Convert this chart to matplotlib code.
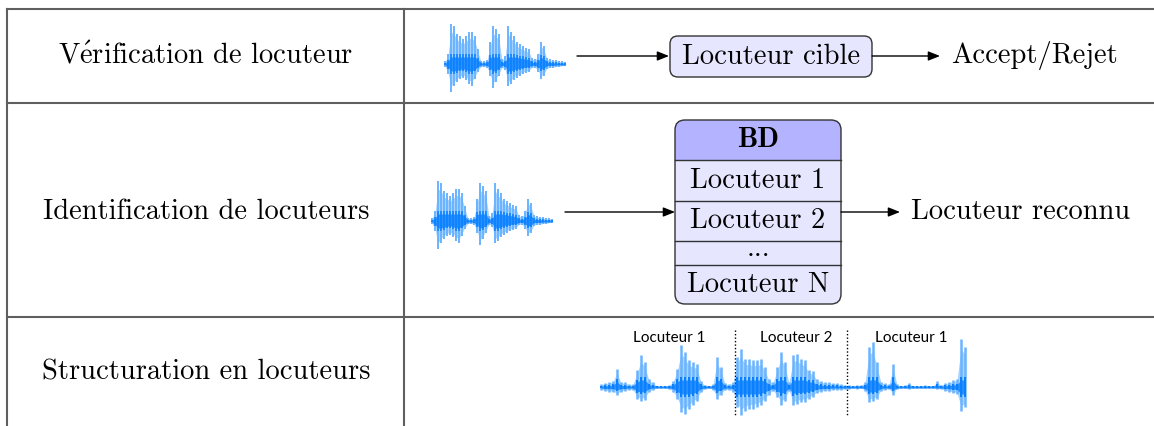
import numpy as np
import matplotlib.pyplot as plt
from matplotlib.patches import FancyBboxPatch, Rectangle

plt.rcParams['mathtext.fontset'] = 'cm'

# textes du tableau
row_labels = [r'V$\acute{\mathrm{e}}$rification de locuteur',
              'Identification de locuteurs',
              'Structuration en locuteurs']
verif_box = 'Locuteur cible'
verif_out = 'Accept/Rejet'
db_title = 'BD'
db_items = ['Locuteur 1', 'Locuteur 2', '...', 'Locuteur N']
ident_out = 'Locuteur reconnu'
segment_labels = ['Locuteur 1', 'Locuteur 2', 'Locuteur 1']

# enveloppe du signal court (lignes 1 et 2), amplitude haut / bas en px
wave_up = [3, 10, 40, 38, 30, 28, 25, 28, 32, 32, 28, 15, 3, 3, 4, 22, 38, 35, 30, 5,
           8, 38, 32, 28, 22, 20, 18, 16, 15, 6, 5, 10, 22, 18, 6, 5, 4, 4, 3, 3, 2]
wave_down = [3, 10, 28, 22, 18, 15, 14, 16, 20, 22, 15, 8, 3, 3, 4, 12, 24, 18, 12, 4,
             6, 22, 20, 16, 14, 12, 10, 9, 8, 4, 4, 8, 15, 12, 5, 4, 4, 3, 3, 2, 2]

# enveloppe du signal long (ligne 3)
long_up = [3, 4, 5, 6, 18, 5, 5, 3, 3, 17, 32, 25, 8, 5, 1, 1, 1, 2, 6, 18,
           42, 35, 27, 25, 23, 6, 2, 1, 3, 30, 20, 4, 3, 5, 30, 38, 28, 28, 27, 27,
           28, 20, 8, 5, 20, 35, 25, 5, 32, 33, 28, 27, 17, 16, 8, 6, 5, 5, 4, 4,
           3, 2, 2, 1, 2, 2, 5, 40, 45, 25, 5, 4, 3, 23, 3, 1, 2, 4, 1, 1,
           1, 2, 1, 1, 6, 2, 4, 5, 7, 8, 48, 40]
long_down = [3, 4, 5, 5, 8, 5, 4, 3, 3, 12, 14, 13, 5, 3, 1, 1, 1, 2, 5, 12,
             25, 27, 22, 18, 14, 5, 2, 1, 3, 12, 8, 3, 3, 5, 20, 28, 24, 22, 22, 20,
             18, 14, 8, 4, 10, 18, 14, 4, 18, 17, 15, 15, 12, 10, 6, 5, 4, 4, 3, 3,
             3, 2, 2, 1, 2, 1, 4, 15, 14, 12, 4, 3, 2, 8, 2, 1, 1, 2, 1, 1,
             1, 1, 1, 1, 2, 2, 4, 5, 6, 7, 24, 20]

serif = ['cmr10', 'DejaVu Serif']
fs = 20.5
light_blue = '#6ab4ff'
dark_blue = '#0a80ff'

fig = plt.figure(figsize=(11.54, 4.26), dpi=100)
ax = fig.add_axes([0, 0, 1, 1])
ax.set_xlim(0, 1154)
ax.set_ylim(426, 0)
ax.axis('off')


def draw_wave(x0, yc, step, up, down, lw=1.4):
    up = np.asarray(up, dtype=float)
    down = np.asarray(down, dtype=float)
    xs = x0 + step * np.arange(len(up))
    ax.plot([xs[0], xs[-1]], [yc, yc], color='#1d6fd6', lw=0.8, zorder=2)
    ax.fill_between(xs, yc - up * 0.8, yc + down * 0.8, color='#a8d2ff', lw=0, zorder=2)
    ax.vlines(xs, yc - up, yc + down, color=light_blue, lw=lw, zorder=3)
    core_up = np.clip(up * 0.3, 1, 7)
    core_down = np.clip(down * 0.35, 1, 7)
    ax.fill_between(xs, yc - core_up, yc + core_down, color=dark_blue, lw=0, alpha=0.8, zorder=4)
    ax.vlines(xs, yc - core_up * 1.4, yc + core_down * 1.4, color=dark_blue, lw=lw * 0.8, zorder=4)


def arrow(x1, x2, y):
    ax.annotate('', xy=(x2, y), xytext=(x1, y),
                arrowprops=dict(arrowstyle='-|>,head_length=0.5,head_width=0.2', lw=1.0,
                                color='black', mutation_scale=14, shrinkA=0, shrinkB=0))


# grille du tableau
grid_c = '#5f5f5f'
for yh in [9, 103, 317]:
    ax.plot([7, 1154], [yh, yh], color=grid_c, lw=1.5)
for xv in [7, 404]:
    ax.plot([xv, xv], [9, 426], color=grid_c, lw=1.5)

row_y = [56, 212, 372]
for lab, yy in zip(row_labels, row_y):
    ax.text(206, yy, lab, family=serif, fontsize=fs, ha='center', va='center')

# ligne 1 : verification
draw_wave(445, 64, 3, wave_up, wave_down)
arrow(577, 669, 56)
box = FancyBboxPatch((670, 36), 202, 41, boxstyle='round,pad=0,rounding_size=8',
                     facecolor='#e6e6ff', edgecolor='#333333', lw=1.0)
ax.add_patch(box)
ax.text(771, 57, verif_box, family=serif, fontsize=fs, ha='center', va='center')
arrow(872, 940, 56)
ax.text(1034, 56, verif_out, family=serif, fontsize=fs, ha='center', va='center')

# ligne 2 : identification
draw_wave(432, 221, 3, wave_up, wave_down)
arrow(565, 675, 212)
db_x, db_w = 675, 166
db_top, db_bot = 120, 304
seps = [160, 201, 241, 265]
db = FancyBboxPatch((db_x, db_top), db_w, db_bot - db_top,
                    boxstyle='round,pad=0,rounding_size=10',
                    facecolor='#e6e6ff', edgecolor='none')
ax.add_patch(db)
head = Rectangle((db_x, db_top), db_w, seps[0] - db_top, facecolor='#b3b3ff', edgecolor='none')
ax.add_patch(head)
head.set_clip_path(db)
for s in seps:
    ax.plot([db_x, db_x + db_w], [s, s], color='#333333', lw=1.0)
ax.add_patch(FancyBboxPatch((db_x, db_top), db_w, db_bot - db_top,
                            boxstyle='round,pad=0,rounding_size=10',
                            facecolor='none', edgecolor='#333333', lw=1.0))
ax.text(db_x + db_w / 2, (db_top + seps[0]) / 2, db_title, family=['cmb10', 'DejaVu Serif'],
        fontsize=fs, ha='center', va='center')
bounds = seps + [db_bot]
for lab, a, b in zip(db_items, bounds[:-1], bounds[1:]):
    ax.text(db_x + db_w / 2, (a + b) / 2 - (4 if lab == '...' else 0), lab,
            family=serif, fontsize=fs, ha='center', va='center')
arrow(841, 900, 212)
ax.text(1021, 212, ident_out, family=serif, fontsize=fs, ha='center', va='center')

# ligne 3 : structuration
draw_wave(601, 387, 4, long_up, long_down, lw=1.8)
for xd in [735, 847]:
    ax.plot([xd, xd], [330, 416], color='black', lw=1.0, ls=(0, (1, 1.5)))
for lab, xl in zip(segment_labels, [669, 796, 911]):
    ax.text(xl, 338, lab, family=['Lato', 'DejaVu Sans'], fontsize=11,
            ha='center', va='center')

fig.savefig('out.png', dpi=100)
